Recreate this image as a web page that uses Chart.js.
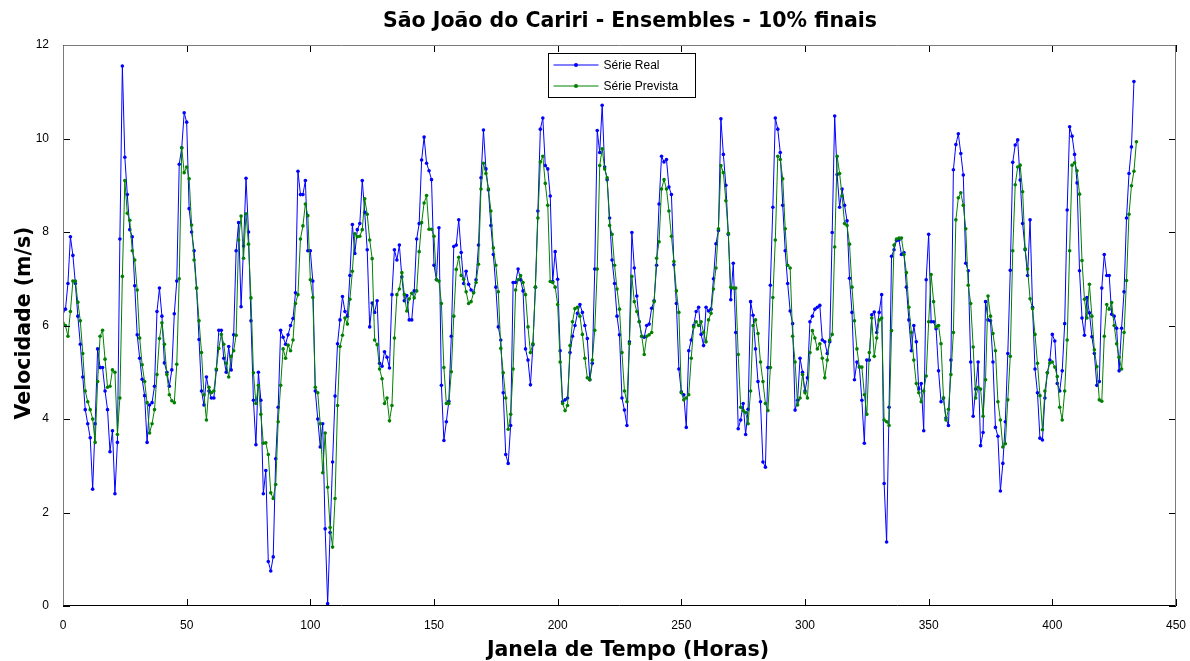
<!DOCTYPE html>
<html>
<head>
<meta charset="utf-8">
<script src="https://cdn.jsdelivr.net/npm/chart.js@4.4.0/dist/chart.umd.min.js"></script>
<style>
  html, body { margin: 0; padding: 0; background: #fff; }
  #wrap { width: 1190px; height: 661px; }
</style>
</head>
<body>
<div id="wrap"><canvas id="chart" width="1190" height="661"></canvas></div>
<script>
'use strict';

// hourly wind speed (m/s)
const serieReal = [
  6.3, 6.35, 6.9, 7.9, 7.5, 6.9, 6.2, 5.6, 4.9, 4.2,
  3.9, 3.6, 2.5, 3.9, 5.5, 5.1, 5.1, 4.6, 4.2, 3.3,
  3.75, 2.4, 3.5, 7.85, 11.55, 9.6, 8.8, 8.05, 7.9, 6.85,
  5.8, 5.3, 4.85, 4.5, 3.5, 4.3, 4.35, 4.7, 6.3, 6.8,
  6.2, 5.2, 5.0, 4.7, 5.05, 6.25, 6.95, 9.45, 9.8, 10.55,
  10.35, 8.5, 8.0, 7.6, 6.8, 5.7, 4.6, 4.3, 4.9, 4.6,
  4.45, 4.45, 5.05, 5.9, 5.9, 5.3, 5.0, 5.55, 5.05, 5.8,
  7.6, 8.2, 6.4, 7.7, 9.15, 8.0, 6.1, 4.4, 3.45, 5.0,
  4.4, 2.4, 2.9, 0.95, 0.75, 1.05, 3.15, 4.25, 5.9, 5.75,
  5.6, 5.8, 6.0, 6.15, 6.7, 9.3, 8.8, 8.8, 9.1, 7.6,
  7.6, 6.95, 4.6, 4.0, 3.4, 3.9, 1.65, 0.05, 1.57, 3.08,
  4.49, 5.61, 6.12, 6.62, 6.3, 6.2, 7.07, 8.16, 7.54, 8.05,
  8.18, 9.1, 8.42, 7.62, 5.97, 6.48, 6.28, 6.53, 5.19, 5.13,
  5.44, 5.32, 5.09, 6.66, 7.62, 7.4, 7.72, 7.04, 6.53, 6.64,
  6.12, 6.12, 6.74, 7.85, 8.18, 9.54, 10.03, 9.47, 9.31, 9.12,
  7.29, 6.98, 8.09, 4.72, 3.54, 3.94, 4.38, 5.77, 7.69, 7.72,
  8.26, 7.56, 6.9, 7.16, 6.88, 6.76, 6.7, 6.98, 7.72, 9.16,
  10.18, 9.35, 8.9, 8.14, 7.52, 6.82, 5.97, 5.69, 4.56, 3.24,
  3.05, 3.86, 6.92, 6.92, 7.21, 6.98, 6.74, 5.5, 5.26, 4.73,
  5.59, 6.82, 8.45, 10.2, 10.44, 9.42, 9.35, 8.77, 6.94, 7.58,
  6.99, 5.46, 4.37, 4.41, 4.45, 5.42, 5.77, 6.0, 6.26, 6.45,
  6.28, 6.0, 5.72, 4.84, 5.19, 7.21, 10.17, 9.7, 10.71, 9.39,
  9.12, 8.3, 7.4, 6.9, 6.2, 5.8, 4.45, 4.19, 3.86, 5.65,
  7.99, 7.23, 6.63, 6.08, 5.77, 5.75, 6.0, 6.03, 6.37, 6.53,
  7.29, 8.6, 9.62, 9.5, 9.55, 8.96, 8.8, 7.3, 6.47, 5.07,
  4.58, 4.52, 3.82, 5.46, 5.69, 6.0, 6.3, 6.39, 5.81, 5.57,
  6.39, 6.31, 6.35, 7.0, 7.75, 8.03, 10.42, 9.66, 9.0, 7.95,
  6.55, 7.33, 5.85, 3.79, 3.98, 4.33, 3.67, 4.21, 6.51, 6.22,
  5.5, 4.8, 4.37, 3.08, 2.97, 5.1, 6.86, 8.53, 10.44, 10.2,
  9.7, 8.57, 7.6, 6.9, 6.31, 6.04, 4.19, 4.4, 5.3, 5.0,
  4.6, 4.88, 6.08, 6.2, 6.35, 6.39, 6.43, 5.69, 5.65, 5.4,
  5.65, 7.99, 10.48, 9.23, 8.53, 8.92, 8.57, 8.24, 7.01, 6.28,
  4.84, 5.22, 5.11, 4.4, 3.48, 5.26, 5.26, 6.23, 6.29, 5.85,
  6.28, 6.66, 2.62, 1.37, 4.25, 7.48, 7.62, 7.82, 7.83, 7.52,
  7.56, 6.82, 6.12, 5.46, 6.0, 5.65, 4.64, 4.76, 3.75, 6.98,
  7.95, 6.08, 6.08, 5.93, 5.03, 4.37, 4.45, 4.02, 3.86, 5.26,
  9.33, 9.87, 10.1, 9.68, 9.22, 7.33, 7.17, 5.22, 4.06, 4.64,
  5.22, 3.43, 3.71, 6.51, 6.12, 6.1, 5.22, 3.82, 3.63, 2.46,
  3.05, 3.94, 5.4, 7.18, 9.49, 9.86, 9.97, 9.11, 8.18, 7.62,
  7.07, 8.26, 6.39, 5.07, 4.56, 3.59, 3.55, 4.45, 4.99, 5.26,
  5.81, 5.67, 4.76, 4.6, 5.03, 6.04, 8.47, 10.25, 10.05, 9.66,
  9.05, 7.17, 6.16, 5.79, 6.6, 6.27, 5.76, 5.4, 4.72, 4.8,
  6.8, 7.52, 7.07, 7.07, 6.24, 6.2, 5.94, 5.03, 5.94, 6.72,
  8.3, 9.25, 9.82, 11.22
];

const seriePrevista = [
  6.05, 6.0, 5.77, 6.3, 6.95, 6.95, 6.5, 6.1, 5.4, 4.6,
  4.37, 4.2, 4.0, 3.5, 4.8, 5.77, 5.9, 5.28, 4.68, 4.7,
  5.05, 5.0, 3.67, 4.45, 7.05, 9.1, 8.4, 8.25, 7.6, 7.4,
  6.76, 5.73, 5.16, 4.8, 4.35, 3.7, 3.9, 4.2, 4.95, 5.72,
  6.06, 5.6, 4.95, 4.52, 4.39, 4.35, 5.17, 7.0, 9.8, 9.27,
  9.39, 9.14, 8.15, 7.4, 6.8, 6.1, 5.42, 4.52, 3.98, 4.68,
  4.56, 4.6, 5.07, 5.51, 5.81, 5.6, 5.19, 4.9, 5.34, 5.46,
  5.79, 7.83, 8.34, 7.44, 8.39, 7.74, 6.59, 4.99, 4.33, 4.72,
  4.1, 3.48, 3.49, 3.24, 2.42, 2.3, 2.6, 3.94, 4.72, 5.5,
  5.3, 5.58, 5.46, 5.69, 6.47, 6.66, 7.85, 8.13, 8.6, 8.35,
  6.98, 6.6, 4.68, 4.56, 3.9, 2.85, 3.7, 2.54, 1.68, 1.26,
  2.3, 4.29, 5.55, 5.79, 6.16, 6.03, 6.56, 7.16, 7.96, 7.9,
  7.91, 8.05, 8.71, 8.38, 7.83, 7.43, 5.69, 5.59, 5.07, 4.86,
  4.33, 4.45, 3.96, 4.29, 5.73, 6.66, 6.78, 7.13, 6.66, 6.31,
  6.57, 6.69, 6.59, 6.74, 7.58, 8.2, 8.62, 8.78, 8.06, 8.06,
  7.91, 6.98, 6.95, 6.47, 5.1, 4.33, 4.33, 5.01, 6.2, 7.2,
  7.46, 7.07, 6.99, 6.72, 6.47, 6.51, 6.7, 6.92, 7.31, 8.92,
  9.47, 9.25, 8.92, 8.45, 7.66, 7.29, 6.72, 5.51, 4.99, 4.45,
  3.78, 4.1, 5.07, 6.76, 6.98, 7.07, 6.92, 6.66, 5.97, 5.42,
  5.61, 6.82, 8.3, 9.5, 9.62, 9.04, 8.57, 6.94, 6.92, 6.82,
  6.45, 5.22, 4.33, 4.18, 4.29, 5.57, 6.08, 6.36, 6.39, 6.2,
  5.81, 5.3, 4.88, 4.84, 5.26, 5.9, 7.21, 9.42, 9.78, 9.35,
  9.16, 8.14, 7.95, 7.29, 6.78, 6.35, 5.42, 4.6, 4.37, 5.61,
  7.05, 6.51, 6.3, 6.08, 5.77, 5.38, 5.77, 5.8, 5.85, 6.51,
  7.44, 7.79, 8.92, 9.12, 8.92, 8.45, 7.91, 7.37, 6.74, 6.28,
  4.56, 4.41, 4.45, 4.52, 5.3, 5.97, 6.08, 6.0, 6.08, 5.85,
  5.65, 6.12, 6.26, 6.78, 7.23, 8.07, 9.42, 9.27, 8.67, 7.97,
  6.82, 6.8, 6.8, 5.38, 4.25, 4.18, 4.14, 3.9, 4.6, 6.0,
  6.12, 5.83, 5.22, 4.8, 4.33, 4.18, 5.1, 6.6, 7.83, 9.62,
  9.55, 9.14, 8.07, 7.29, 7.23, 5.77, 5.22, 4.3, 4.45, 4.95,
  4.56, 4.45, 5.42, 5.89, 5.73, 5.5, 5.61, 5.3, 4.88, 5.26,
  5.69, 5.81, 7.68, 9.62, 9.25, 8.77, 8.18, 8.14, 7.74, 6.82,
  6.1, 5.5, 5.11, 5.11, 4.52, 4.1, 5.42, 6.16, 5.34, 5.73,
  6.12, 6.16, 3.98, 3.94, 3.86, 5.89, 7.72, 7.85, 7.87, 7.87,
  7.52, 7.13, 6.39, 5.85, 5.26, 4.76, 4.56, 4.37, 4.6, 4.92,
  6.08, 7.09, 6.51, 5.97, 6.0, 5.61, 4.45, 3.98, 4.21, 4.95,
  5.85, 8.26, 8.73, 8.84, 8.57, 8.07, 6.86, 6.47, 5.54, 4.45,
  4.68, 4.64, 4.06, 4.84, 6.63, 6.2, 5.83, 5.46, 4.37, 3.98,
  3.4, 3.47, 4.41, 5.34, 7.6, 9.01, 9.39, 9.43, 8.86, 7.64,
  7.21, 6.57, 6.36, 5.81, 5.19, 4.5, 3.77, 4.6, 4.99, 5.2,
  5.22, 5.11, 4.91, 4.25, 3.98, 4.6, 5.69, 7.6, 9.43, 9.48,
  9.31, 8.81, 7.39, 6.56, 6.16, 6.88, 6.2, 5.48, 5.12, 4.41,
  4.38, 5.77, 6.45, 6.35, 6.49, 6.0, 5.61, 5.32, 5.07, 5.85,
  6.96, 8.38, 8.99, 9.3, 9.93
];

const xTicks = [0, 50, 100, 150, 200, 250, 300, 350, 400, 450];
const yTicks = [0, 2, 4, 6, 8, 10, 12];

const legendLabels = ['Série Real', 'Série Prevista'];
const titleText = 'São João do Cariri - Ensembles - 10% finais';
const xLabel = 'Janela de Tempo (Horas)';
const yLabel = 'Velocidade (m/s)';

const BLUE = '#0000ff';
const GREEN = '#008000';
const FONT = "'Liberation Sans', Arial, sans-serif";
const BOLD_FONT = "'DejaVu Sans', Verdana, sans-serif";

function toPoints(values) {
  return values.map((v, i) => ({ x: i, y: v }));
}

// MATLAB-like box with inward ticks, legend and labels
const matlabDecor = {
  id: 'matlabDecor',
  afterDraw(chart) {
    const { ctx, chartArea: a, scales } = chart;
    const tl = 7;

    ctx.save();
    ctx.lineWidth = 1;

    ctx.strokeStyle = '#000';
    ctx.beginPath();
    for (const v of xTicks) {
      const px = Math.round(scales.x.getPixelForValue(v)) + 0.5;
      ctx.moveTo(px, a.bottom);
      ctx.lineTo(px, a.bottom - tl);
      ctx.moveTo(px, a.top);
      ctx.lineTo(px, a.top + tl);
    }
    for (const v of yTicks) {
      const py = Math.round(scales.y.getPixelForValue(v)) + 0.5;
      ctx.moveTo(a.left, py);
      ctx.lineTo(a.left + tl, py);
      ctx.moveTo(a.right, py);
      ctx.lineTo(a.right - tl, py);
    }
    ctx.stroke();

    const L = Math.round(a.left) + 0.5;
    const R = Math.round(a.right) - 0.5;
    const T = Math.round(a.top) + 0.5;
    const B = Math.round(a.bottom) - 0.5;
    ctx.strokeStyle = '#7a7a7a';
    ctx.beginPath();
    ctx.moveTo(L, B);
    ctx.lineTo(L, T);
    ctx.lineTo(R, T);
    ctx.lineTo(R, B);
    ctx.stroke();
    ctx.strokeStyle = '#000';
    ctx.beginPath();
    ctx.moveTo(L, B);
    ctx.lineTo(R, B);
    ctx.stroke();

    // legend
    const lx = 548.5, ly = 53.5, lw = 147, lh = 44;
    ctx.fillStyle = '#fff';
    ctx.fillRect(lx, ly, lw, lh);
    ctx.strokeStyle = '#000';
    ctx.strokeRect(lx, ly, lw, lh);
    const colors = [BLUE, GREEN];
    ctx.font = '12px ' + FONT;
    ctx.textBaseline = 'middle';
    ctx.textAlign = 'left';
    legendLabels.forEach((label, i) => {
      const y = ly + 11.5 + i * 21;
      ctx.strokeStyle = colors[i];
      ctx.beginPath();
      ctx.moveTo(lx + 5, y);
      ctx.lineTo(lx + 50, y);
      ctx.stroke();
      ctx.fillStyle = colors[i];
      ctx.beginPath();
      ctx.arc(lx + 27.5, y, 2, 0, Math.PI * 2);
      ctx.fill();
      ctx.fillStyle = '#000';
      ctx.fillText(label, lx + 55, y + 0.5);
    });

    // title and axis labels
    ctx.fillStyle = '#000';
    ctx.textAlign = 'center';
    ctx.font = 'bold 20.5px ' + BOLD_FONT;
    ctx.fillText(titleText, 630, 22);
    ctx.fillText(xLabel, 628, 651);
    ctx.translate(25, 323);
    ctx.rotate(-Math.PI / 2);
    ctx.fillText(yLabel, 0, 0);
    ctx.restore();
  }
};

new Chart(document.getElementById('chart'), {
  type: 'line',
  data: {
    datasets: [
      {
        label: legendLabels[0],
        data: toPoints(serieReal),
        borderColor: BLUE,
        backgroundColor: BLUE,
        borderWidth: 1,
        pointRadius: 1.8,
        pointBorderWidth: 0,
        pointBackgroundColor: BLUE,
        tension: 0,
        order: 1
      },
      {
        label: legendLabels[1],
        data: toPoints(seriePrevista),
        borderColor: GREEN,
        backgroundColor: GREEN,
        borderWidth: 1,
        pointRadius: 1.8,
        pointBorderWidth: 0,
        pointBackgroundColor: GREEN,
        tension: 0,
        order: 0
      }
    ]
  },
  options: {
    responsive: false,
    animation: false,
    devicePixelRatio: 1,
    layout: { padding: { top: 45, right: 10, bottom: 0, left: 0 } },
    plugins: {
      legend: { display: false },
      title: { display: false },
      tooltip: { enabled: false }
    },
    scales: {
      x: {
        type: 'linear',
        min: 0,
        max: 450,
        grid: { display: false },
        border: { display: false },
        afterBuildTicks(scale) {
          scale.ticks = xTicks.map((v) => ({ value: v }));
        },
        afterFit(scale) {
          scale.height = 55;
        },
        ticks: {
          color: '#000',
          padding: 4,
          maxRotation: 0,
          font: { family: FONT, size: 12 }
        }
      },
      y: {
        type: 'linear',
        min: 0,
        max: 12,
        grid: { display: false },
        border: { display: false },
        afterBuildTicks(scale) {
          scale.ticks = yTicks.map((v) => ({ value: v }));
        },
        afterFit(scale) {
          scale.width = 63;
        },
        ticks: {
          color: '#000',
          padding: 6,
          font: { family: FONT, size: 12 }
        }
      }
    }
  },
  plugins: [matlabDecor]
});
</script>
</body>
</html>
